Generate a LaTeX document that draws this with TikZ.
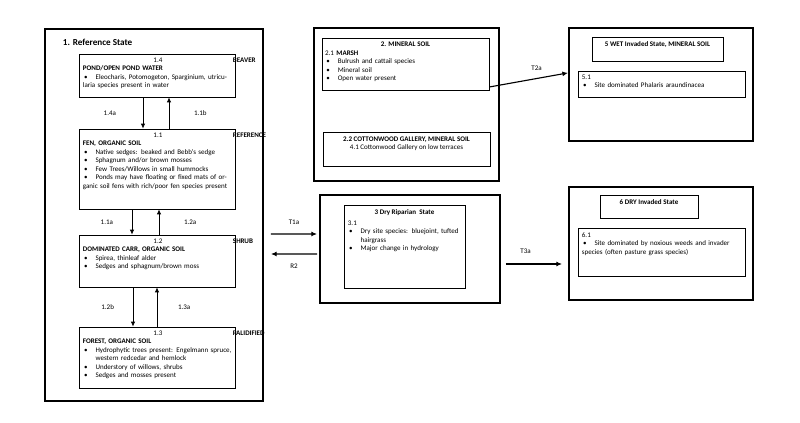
\documentclass[tikz,border=0pt]{standalone}
\usepackage{fontspec}
\setmainfont{Carlito}
\usetikzlibrary{fit,arrows.meta}
\newcommand{\itm}[1]{\par\hangindent=9pt\hangafter=1\noindent\makebox[9pt][l]{\,\textbullet}#1}
\begin{document}
\begin{tikzpicture}[
    outer/.style={draw, line width=1.4pt, inner sep=0pt},
    box/.style={draw, line width=0.5pt, inner sep=0pt},
    txt/.style={anchor=north west, font=\fontsize{5}{6}\selectfont, align=left, inner sep=0pt},
    ttl/.style={anchor=north, font=\fontsize{5}{6}\selectfont\bfseries, align=center, inner sep=0pt},
    msg/.style={-{Latex[length=4pt,width=3.5pt]}, line width=0.8pt},
    pway/.style={-{Latex[length=3.5pt,width=3pt]}, line width=0.5pt},
    lbl/.style={font=\fontsize{5}{6}\selectfont}
]
    \useasboundingbox (0,0) rectangle (20,-10.575);

    % State 1
    \node[outer, fit={(1.125,-0.725)(6.575,-10.025)}] (s1) {};
    \node[anchor=north west, font=\fontsize{6.5}{8}\selectfont\bfseries] (s1t) at (1.45,-0.85) {1. Reference State};
    \node[box, fit={(1.975,-1.35)(5.875,-2.425)}] (b14) {};
    \node[box, fit={(1.975,-3.225)(5.875,-5.225)}] (b11) {};
    \node[box, fit={(1.975,-5.875)(5.875,-7.175)}] (b12) {};
    \node[box, fit={(1.975,-8.175)(5.875,-9.7)}] (b13) {};
    \node[txt, text width=3.75cm] (t14) at ([xshift=0.1cm,yshift=-0.1cm]b14.north west)
        {\centerline{1.4}\textbf{BEAVER POND/OPEN POND WATER}
         \itm{Eleocharis, Potomogeton, Sparginium, utricularia species present in water}};
    \node[txt, text width=3.75cm] (t11) at ([xshift=0.1cm,yshift=-0.1cm]b11.north west)
        {\centerline{1.1}\textbf{REFERENCE FEN, ORGANIC SOIL}
         \itm{Native sedges: beaked and Bebb's sedge}
         \itm{Sphagnum and/or brown mosses}
         \itm{Few Trees/Willows in small hummocks}
         \itm{Ponds may have floating or fixed mats of organic soil fens with rich/poor fen species present}};
    \node[txt, text width=3.75cm] (t12) at ([xshift=0.1cm,yshift=-0.1cm]b12.north west)
        {\centerline{1.2}\textbf{SHRUB DOMINATED CARR, ORGANIC SOIL}
         \itm{Spirea, thinleaf alder}
         \itm{Sedges and sphagnum/brown moss}};
    \node[txt, text width=3.75cm] (t13) at ([xshift=0.1cm,yshift=-0.1cm]b13.north west)
        {\centerline{1.3}\textbf{PALIDIFIED FOREST, ORGANIC SOIL}
         \itm{Hydrophytic trees present: Engelmann spruce, western redcedar and hemlock}
         \itm{Understory of willows, shrubs}
         \itm{Sedges and mosses present}};

    % Pathways inside state 1
    \draw[pway] ([xshift=-0.35cm]b14.south) -- ([xshift=-0.35cm]b11.north) node[lbl, midway, left=0.55cm] {1.4a};
    \draw[pway] ([xshift=0.3cm]b11.north) -- ([xshift=0.3cm]b14.south) node[lbl, midway, right=0.5cm] {1.1b};
    \draw[pway] ([xshift=-0.625cm]b11.south) -- ([xshift=-0.625cm]b12.north) node[lbl, midway, left=0.35cm] {1.1a};
    \draw[pway] ([xshift=0.05cm]b12.north) -- ([xshift=0.05cm]b11.south) node[lbl, midway, right=0.5cm] {1.2a};
    \draw[pway] ([xshift=-0.6cm]b12.south) -- ([xshift=-0.6cm]b13.north) node[lbl, midway, left=0.35cm] {1.2b};
    \draw[pway] (b13.north) -- (b12.south) node[lbl, midway, right=0.4cm] {1.3a};

    % State 2
    \node[outer, fit={(7.85,-0.7)(12.475,-4.525)}] (s2) {};
    \node[box, fit={(8.05,-0.95)(12.225,-2.25)}] (b21) {};
    \node[box, fit={(8.075,-3.3)(12.25,-4.15)}] (b22) {};
    \node[ttl] (t2) at ([yshift=-0.1cm]b21.north) {2. MINERAL SOIL};
    \node[txt, text width=4cm] (t21) at ([xshift=0.08cm,yshift=-0.32cm]b21.north west)
        {2.1 \textbf{MARSH}
         \itm{Bulrush and cattail species}
         \itm{Mineral soil}
         \itm{Open water present}};
    \node[ttl] (t22) at ([yshift=-0.12cm]b22.north)
        {2.2 COTTONWOOD GALLERY, MINERAL SOIL\\\mdseries 4.1 Cottonwood Gallery on low terraces};

    % State 5
    \node[outer, fit={(14.225,-0.7)(18.825,-3.525)}] (s5) {};
    \node[box, fit={(14.8,-0.925)(18.075,-1.525)}] (b5t) {};
    \node[ttl] (t5) at ([yshift=-0.12cm]b5t.north) {5 WET Invaded State, MINERAL SOIL};
    \node[box, fit={(14.45,-1.775)(18.625,-2.425)}] (b51) {};
    \node[txt, text width=4cm] (t51) at ([xshift=0.1cm,yshift=-0.1cm]b51.north west)
        {5.1\itm{Site dominated Phalaris araundinacea}};

    % State 3
    \node[outer, fit={(8,-4.875)(12.5,-7.575)}] (s3) {};
    \node[box, fit={(8.6,-5.125)(11.625,-7.2)}] (b31) {};
    \node[ttl] (t3) at ([yshift=-0.12cm]b31.north) {3 Dry Riparian\ \ State};
    \node[txt, text width=2.85cm] (t31) at ([xshift=0.1cm,yshift=-0.4cm]b31.north west)
        {3.1
         \itm{Dry site species: bluejoint, tufted\ \ hairgrass}
         \itm{Major change in hydrology}};

    % State 6
    \node[outer, fit={(14.225,-4.675)(18.825,-7.5)}] (s6) {};
    \node[box, fit={(15,-4.875)(17.45,-5.45)}] (b6t) {};
    \node[ttl] (t6) at ([yshift=-0.12cm]b6t.north) {6 DRY Invaded State};
    \node[box, fit={(14.45,-5.7)(18.625,-6.9)}] (b61) {};
    \node[txt, text width=4cm] (t61) at ([xshift=0.1cm,yshift=-0.12cm]b61.north west)
        {6.1\itm{Site dominated by noxious weeds and invader species (often pasture grass species)}};

    % Transitions between states
    \draw[msg] ([yshift=-0.575cm]b21.east) -- ([yshift=0.29cm]s5.west) node[lbl, pos=0.6, above=2pt] {T2a};
    \draw[msg] ([xshift=0.175cm,yshift=-0.475cm]s1.east) -- ([xshift=-0.05cm,yshift=0.375cm]s3.west) node[lbl, midway, above=3pt] {T1a};
    \draw[msg] ([xshift=-0.05cm,yshift=-0.125cm]s3.west) -- ([xshift=0.175cm,yshift=-0.975cm]s1.east) node[lbl, midway, below=3pt] {R2};
    \draw[msg] ([xshift=0.125cm,yshift=-0.375cm]s3.east) -- ([xshift=-0.15cm,yshift=-0.5125cm]s6.west) node[lbl, pos=0.35, above=4pt] {T3a};
\end{tikzpicture}
\end{document}
